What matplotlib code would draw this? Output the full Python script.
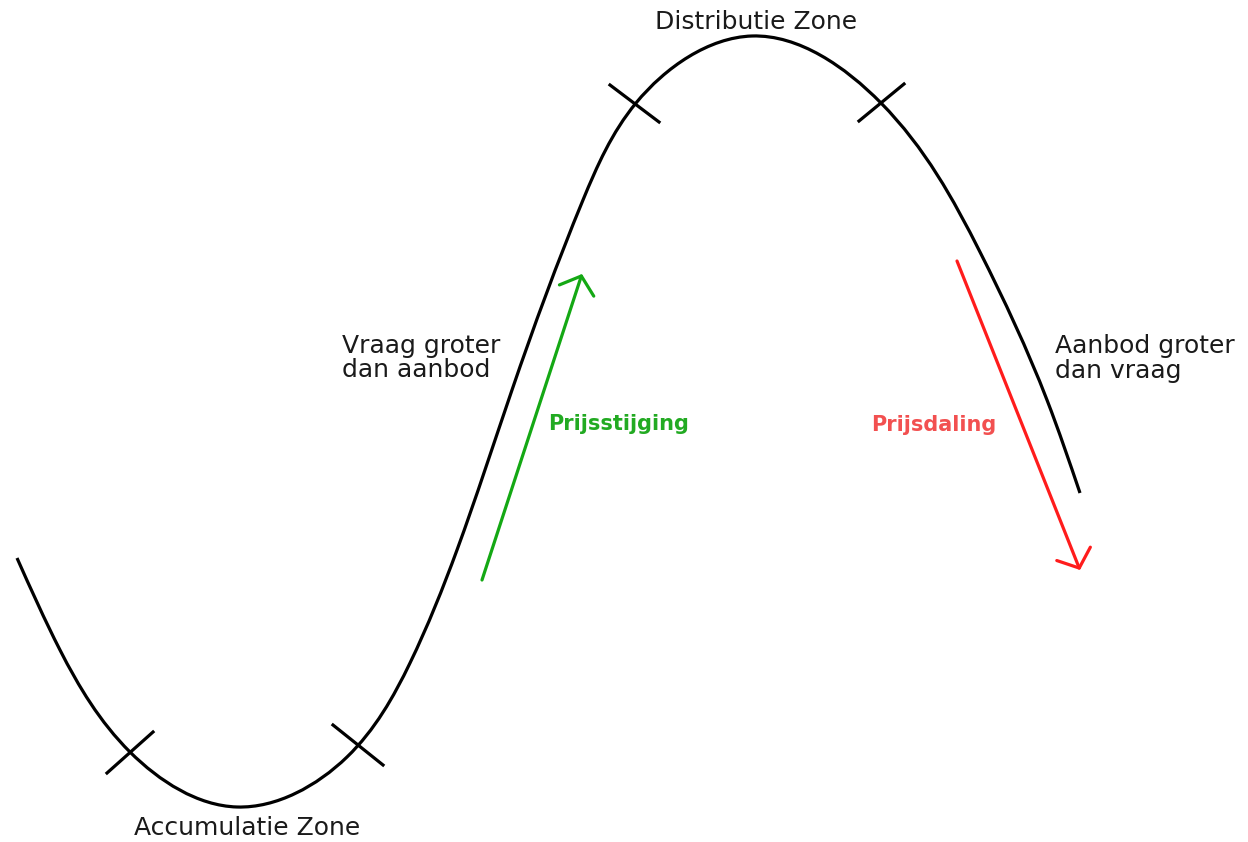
import matplotlib
matplotlib.use("Agg")
import matplotlib.pyplot as plt
import numpy as np
from matplotlib.path import Path
from matplotlib.patches import PathPatch

# Curve anchor points (pixel-space)
curve_x = [17, 60, 130, 237, 347, 410, 457, 512, 583, 636, 752, 881, 980, 1047, 1080]
curve_y = [558, 650, 752, 807, 757, 663, 550, 390, 200, 103, 36, 103, 252, 400, 493]

# Cross marks on the curve (segment endpoints)
tick_x0 = [107, 333, 610, 859]
tick_y0 = [773, 725, 85, 121]
tick_x1 = [153, 383, 659, 904]
tick_y1 = [732, 765, 122, 84]

# Arrows: start and tip
up_start, up_tip = (482, 580), (582, 274)
down_start, down_tip = (957, 261), (1080, 570)

labels = ["Distributie Zone", "Accumulatie Zone", "Vraag groter\ndan aanbod",
          "Aanbod groter\ndan vraag", "Prijsstijging", "Prijsdaling"]

fig = plt.figure(figsize=(12.48, 8.42), dpi=100)
ax = fig.add_axes([0, 0, 1, 1])
ax.set_xlim(0, 1248)
ax.set_ylim(842, 0)
ax.axis("off")


def natural_second_derivs(t, v):
    n = len(t)
    h = np.diff(t)
    A = np.zeros((n, n))
    b = np.zeros(n)
    A[0, 0] = A[-1, -1] = 1.0
    for i in range(1, n - 1):
        A[i, i - 1] = h[i - 1]
        A[i, i] = 2 * (h[i - 1] + h[i])
        A[i, i + 1] = h[i]
        b[i] = 6 * ((v[i + 1] - v[i]) / h[i] - (v[i] - v[i - 1]) / h[i - 1])
    return np.linalg.solve(A, b)


# smooth curve through the anchor points: C2 cubic spline (chord-length
# parameter) expressed as Bezier segments that matplotlib renders
pts = np.column_stack([curve_x, curve_y]).astype(float)
t = np.concatenate([[0], np.cumsum(np.hypot(*np.diff(pts, axis=0).T))])
M = np.column_stack([natural_second_derivs(t, pts[:, 0]),
                     natural_second_derivs(t, pts[:, 1])])
verts = [pts[0]]
codes = [Path.MOVETO]
for i in range(len(pts) - 1):
    h = t[i + 1] - t[i]
    slope = (pts[i + 1] - pts[i]) / h
    d0 = slope - h * (2 * M[i] + M[i + 1]) / 6
    d1 = slope + h * (M[i] + 2 * M[i + 1]) / 6
    verts += [pts[i] + d0 * h / 3, pts[i + 1] - d1 * h / 3, pts[i + 1]]
    codes += [Path.CURVE4] * 3
ax.add_patch(PathPatch(Path(verts, codes), fill=False, edgecolor="black", lw=2.3,
                       capstyle="butt"))

for x0, y0, x1, y1 in zip(tick_x0, tick_y0, tick_x1, tick_y1):
    ax.plot([x0, x1], [y0, y1], color="black", lw=2.3)

ax.annotate("", xy=up_tip, xytext=up_start,
            arrowprops=dict(arrowstyle="->,head_length=1.1,head_width=1.3",
                            color="#14a814", lw=2.3, shrinkA=0, shrinkB=0))
ax.annotate("", xy=down_tip, xytext=down_start,
            arrowprops=dict(arrowstyle="->,head_length=1.1,head_width=1.3",
                            color="#ff1c1c", lw=2.3, shrinkA=0, shrinkB=0))

tc = "#1a1a1a"
fs = 18
ax.text(756, 29, labels[0], ha="center", va="baseline", fontsize=fs, color=tc)
ax.text(247, 835, labels[1], ha="center", va="baseline", fontsize=fs, color=tc)
for j, line in enumerate(labels[2].split("\n")):
    ax.text(342, 353 + 24 * j, line, ha="left", va="baseline", fontsize=fs, color=tc)
for j, line in enumerate(labels[3].split("\n")):
    ax.text(1055, 353 + 25 * j, line, ha="left", va="baseline", fontsize=fs, color=tc)
ax.text(548, 430, labels[4], ha="left", va="baseline", fontsize=15, fontweight="bold",
        color="#22aa22")
ax.text(871, 431, labels[5], ha="left", va="baseline", fontsize=15, fontweight="bold",
        color="#f25050")

fig.savefig("out.png", dpi=100, facecolor="white")
